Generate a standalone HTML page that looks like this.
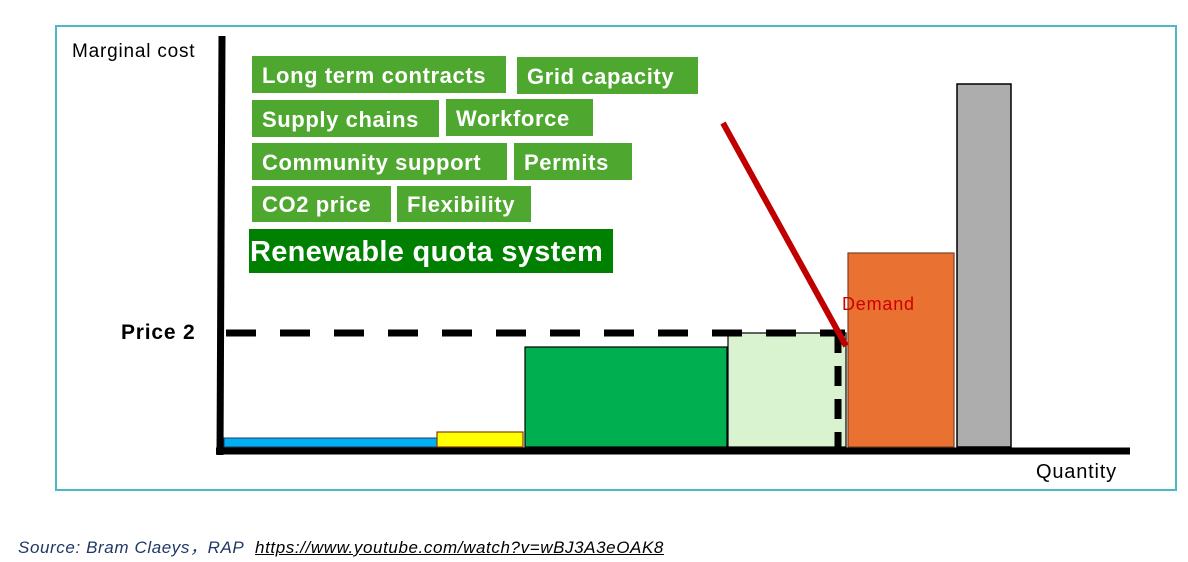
<!DOCTYPE html>
<html><head><style>
body{margin:0;width:1188px;height:562px;background:#fff;position:relative;overflow:hidden;font-family:"Liberation Sans",sans-serif}
.a{position:absolute}
.g{position:absolute;background:#4ea72e;color:#fff;font-weight:bold;font-size:22px;letter-spacing:0.6px;line-height:39px;padding-left:10px;box-sizing:border-box;white-space:nowrap;overflow:hidden}
</style></head><body>
<div class="a" style="left:55px;top:25px;width:1118px;height:462px;border:2px solid #4bb8c4"></div>
<div class="a" style="left:72px;top:41px;font-size:19px;letter-spacing:0.8px">Marginal cost</div>
<div class="a" style="left:1036px;top:461px;font-size:20px;letter-spacing:0.8px">Quantity</div>
<div class="a" style="left:121px;top:321px;font-size:21px;font-weight:bold;letter-spacing:0.8px">Price 2</div>
<div class="g" style="left:252px;top:56px;width:254px;height:37px">Long term contracts</div>
<div class="g" style="left:517px;top:57px;width:181px;height:37px">Grid capacity</div>
<div class="g" style="left:252px;top:100px;width:187px;height:37px">Supply chains</div>
<div class="g" style="left:446px;top:99px;width:147px;height:37px">Workforce</div>
<div class="g" style="left:252px;top:143px;width:255px;height:37px">Community support</div>
<div class="g" style="left:514px;top:143px;width:118px;height:37px">Permits</div>
<div class="g" style="left:252px;top:186px;width:139px;height:36px;line-height:38px">CO2 price</div>
<div class="g" style="left:397px;top:186px;width:134px;height:36px;line-height:38px">Flexibility</div>
<div class="a" style="left:249px;top:229px;width:363px;height:44px;background:#008000;color:#fff;font-weight:bold;font-size:29px;letter-spacing:0.3px;line-height:46px;padding-left:1px;white-space:nowrap;overflow:hidden">Renewable quota system</div>
<svg class="a" style="left:0;top:0" width="1188" height="562">
<rect x="224" y="438" width="213" height="9" fill="#00b0f0" stroke="#1f3864" stroke-width="1"/>
<rect x="437" y="432" width="86" height="15" fill="#ffff00" stroke="#7f3f00" stroke-width="1.2"/>
<rect x="525" y="347" width="202" height="100" fill="#00b050" stroke="#000" stroke-width="1.2"/>
<rect x="728" y="333" width="118" height="114" fill="#d9f2d0" stroke="#000" stroke-width="1.2"/>
<rect x="848" y="253" width="106" height="194" fill="#e97132" stroke="#7f3f1f" stroke-width="1.2"/>
<rect x="957" y="84" width="54" height="363" fill="#adadad" stroke="#000" stroke-width="1.5"/>
<line x1="226" y1="333" x2="845" y2="333" stroke="#000" stroke-width="7" stroke-dasharray="30,24"/>
<line x1="838" y1="333" x2="838" y2="455" stroke="#000" stroke-width="7" stroke-dasharray="20,13"/>
<line x1="723" y1="123" x2="846" y2="346" stroke="#c00000" stroke-width="6"/>
<line x1="222" y1="36" x2="220" y2="455" stroke="#000" stroke-width="7"/>
<line x1="216" y1="451" x2="1130" y2="451" stroke="#000" stroke-width="7"/>
<text x="842" y="310" fill="#d00000" font-size="18" letter-spacing="0.8" font-family="Liberation Sans">Demand</text>
</svg>
<div class="a" style="left:18px;top:533px;font-size:17px;letter-spacing:0.6px;font-style:italic;color:#1f3864;white-space:nowrap">Source: Bram Claeys，RAP&nbsp; <span style="text-decoration:underline;color:#000">https://www.youtube.com/watch?v=wBJ3A3eOAK8</span></div>
</body></html>
